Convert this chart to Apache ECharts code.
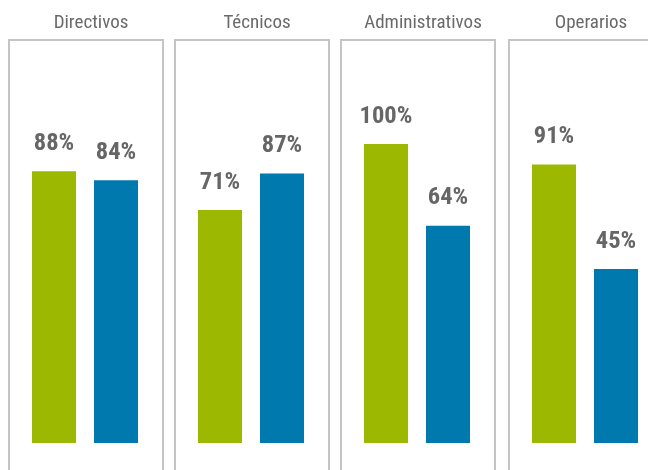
<!DOCTYPE html>
<html>
<head>
<meta charset="utf-8">
<script src="https://cdn.jsdelivr.net/npm/echarts@6/dist/echarts.min.js"></script>
<style>
html,body{margin:0;padding:0;background:#fff;}
#chart{width:648px;height:470px;}
</style>
</head>
<body>
<div id="chart"></div>
<script>
const panels = ['Directivos', 'Técnicos', 'Administrativos', 'Operarios'];
const seriesA = [88, 71, 100, 91];
const seriesB = [84, 87, 64, 45];
const labelSuffix = '%';

const colors = ['#9cb800', '#0079af'];
const boxLefts = [9, 175, 341, 509];
const boxWidth = 154;
const boxTop = 40;
const yMin = -31.6, yMax = 100;

const chart = echarts.init(document.getElementById('chart'), null, {renderer: 'canvas'});
const fontFam = "'Roboto Condensed','Liberation Sans Narrow',Roboto,sans-serif";

const grids = [], xAxes = [], yAxes = [], series = [], titles = [], graphics = [];
panels.forEach((name, i) => {
  const L = boxLefts[i];
  grids.push({left: L + 14, width: 124, top: 144, bottom: 27, containLabel: false});
  xAxes.push({type: 'category', gridIndex: i, data: ['a', 'b'], show: false, boundaryGap: true});
  yAxes.push({type: 'value', gridIndex: i, min: yMin, max: yMax, startValue: yMin, show: false,
    splitLine: {show: false}});
  series.push({
    type: 'bar', xAxisIndex: i, yAxisIndex: i,
    data: [seriesA[i], seriesB[i]],
    barWidth: 44,
    itemStyle: {color: p => colors[p.dataIndex]},
    label: {show: true, position: 'top', distance: 15,
      formatter: p => p.value + labelSuffix,
      fontFamily: fontFam, fontWeight: 'bold', fontSize: 24.5, color: '#666666'},
    silent: true, animation: false
  });
  titles.push({text: name, left: L + boxWidth / 2, top: 9, textAlign: 'center',
    textStyle: {fontFamily: fontFam, fontWeight: 'normal', fontSize: 19, color: '#6a6a6a'}});
  graphics.push({type: 'rect', silent: true,
    shape: {x: L, y: boxTop, width: boxWidth, height: 470},
    style: {fill: 'none', stroke: '#c4c4c4', lineWidth: 2}});
});

chart.setOption({
  animation: false,
  title: titles,
  grid: grids,
  xAxis: xAxes,
  yAxis: yAxes,
  series: series,
  graphic: graphics
});
</script>
</body>
</html>
